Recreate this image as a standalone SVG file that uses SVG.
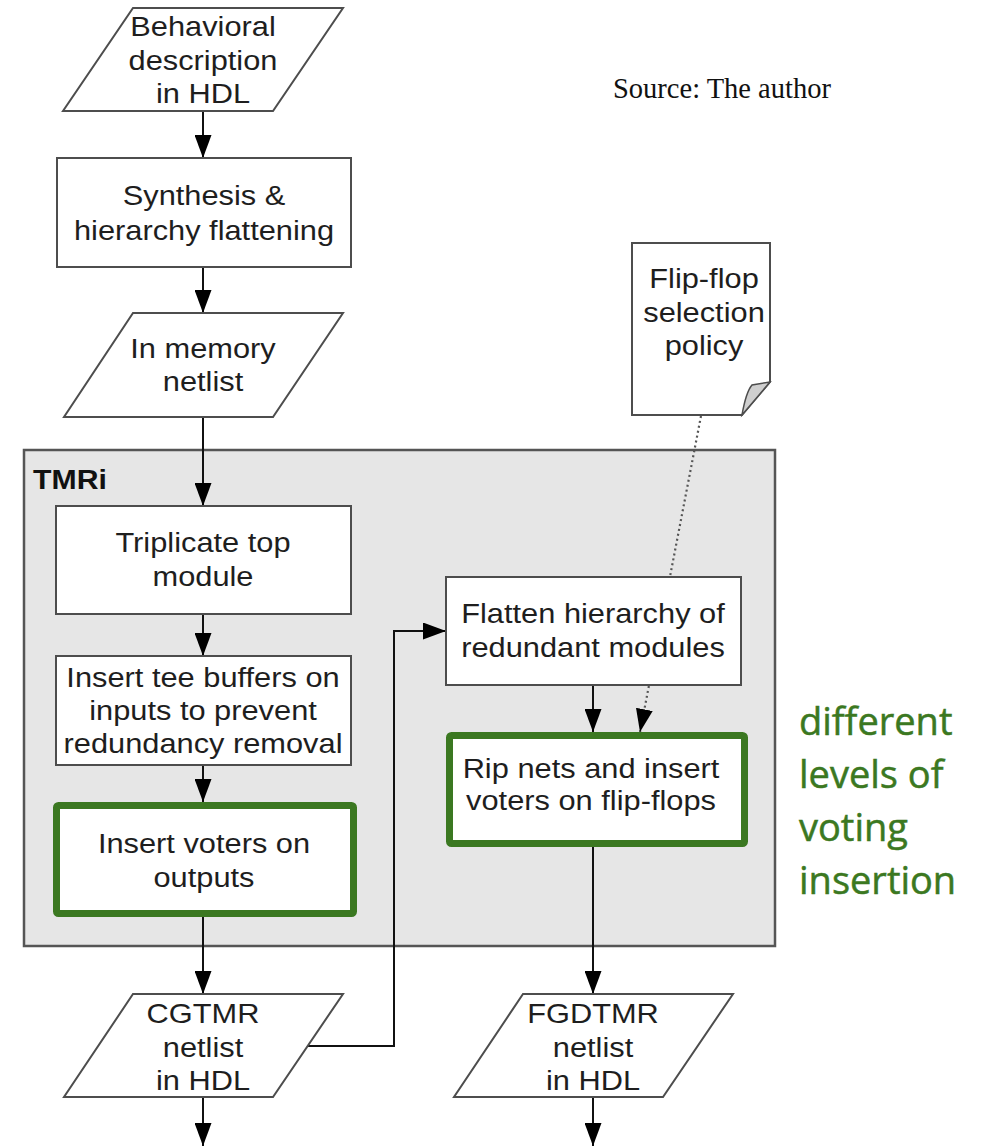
<svg xmlns="http://www.w3.org/2000/svg" width="986" height="1146" viewBox="0 0 986 1146">
<style>
.n{fill:#fff;stroke:#4d4d4d;stroke-width:2}
.g{fill:#fff;stroke:#3b7821;stroke-width:7}
.t{font-family:"Liberation Sans",Arial,sans-serif;font-size:27.5px;fill:#1e1e1e;text-anchor:middle}
.c{fill:none;stroke:#111;stroke-width:2}
.d{fill:none;stroke:#555;stroke-width:2.2;stroke-dasharray:2 3}
</style>
<defs>
<marker id="ah" markerWidth="23" markerHeight="17" refX="23" refY="8.5" viewBox="0 0 23 17" markerUnits="userSpaceOnUse" orient="auto">
<path d="M0,0 L23,8.5 L0,17 Z" fill="#000"/>
</marker>
</defs>
<rect width="986" height="1146" fill="#fff"/>
<g id="tmri">
<rect x="24" y="450" width="751" height="496" fill="#e6e6e6" stroke="#555" stroke-width="2.5"/>
<text x="33" y="489" font-family="Liberation Sans,Arial,sans-serif" font-size="27" font-weight="bold" fill="#111" transform="translate(33,0) scale(1.12,1) translate(-33,0)">TMRi</text>
</g>
<g id="connectors">
<line class="c" x1="203" y1="111" x2="203" y2="158" marker-end="url(#ah)"/>
<line class="c" x1="203" y1="267" x2="203" y2="313" marker-end="url(#ah)"/>
<line class="c" x1="203" y1="417" x2="203" y2="506" marker-end="url(#ah)"/>
<line class="c" x1="203" y1="614" x2="203" y2="656" marker-end="url(#ah)"/>
<line class="c" x1="203" y1="765" x2="203" y2="802" marker-end="url(#ah)"/>
<line class="c" x1="203" y1="917" x2="203" y2="994" marker-end="url(#ah)"/>
<line class="c" x1="203" y1="1097" x2="203" y2="1146" marker-end="url(#ah)"/>
<path class="c" d="M308,1046 H394 V631 H446" marker-end="url(#ah)"/>
<line class="c" x1="593" y1="685" x2="593" y2="732" marker-end="url(#ah)"/>
<line class="d" x1="701" y1="416" x2="640" y2="732" marker-end="url(#ah)"/>
<line class="c" x1="593" y1="847" x2="593" y2="994" marker-end="url(#ah)"/>
<line class="c" x1="593" y1="1097" x2="593" y2="1146" marker-end="url(#ah)"/>
</g>
<g id="behavioral">
<polygon class="n" points="133,8 343,8 273,111 63,111"/>
<text class="t" transform="translate(203,0) scale(1.12,1)"><tspan x="0" y="36">Behavioral</tspan><tspan x="0" y="70">description</tspan><tspan x="0" y="103">in HDL</tspan></text>
</g>
<g id="synthesis">
<rect class="n" x="57" y="158" width="294" height="109"/>
<text class="t" transform="translate(204,0) scale(1.12,1)"><tspan x="0" y="205">Synthesis &amp;</tspan><tspan x="0" y="240">hierarchy flattening</tspan></text>
</g>
<g id="memory">
<polygon class="n" points="133,313 343,313 273,417 64,417"/>
<text class="t" transform="translate(203,0) scale(1.12,1)"><tspan x="0" y="358">In memory</tspan><tspan x="0" y="391">netlist</tspan></text>
</g>
<g id="flipflop">
<path class="n" d="M632,243 H770 V382 L742,415 H632 Z"/>
<path d="M742,415 Q746,392 752,385 L770,382 Z" fill="#cfcfcf" stroke="#4d4d4d" stroke-width="1.5"/>
<text class="t" transform="translate(704,0) scale(1.12,1)"><tspan x="0" y="288">Flip-flop</tspan><tspan x="0" y="322">selection</tspan><tspan x="0" y="355">policy</tspan></text>
</g>
<g id="triplicate">
<rect class="n" x="56" y="506" width="295" height="108"/>
<text class="t" transform="translate(203,0) scale(1.12,1)"><tspan x="0" y="552">Triplicate top</tspan><tspan x="0" y="586">module</tspan></text>
</g>
<g id="tee">
<rect class="n" x="56" y="656" width="295" height="109"/>
<text class="t" transform="translate(203,0) scale(1.12,1)"><tspan x="0" y="687">Insert tee buffers on</tspan><tspan x="0" y="720">inputs to prevent</tspan><tspan x="0" y="753">redundancy removal</tspan></text>
</g>
<g id="voters">
<rect class="g" x="56.5" y="805.5" width="297" height="108" rx="2"/>
<text class="t" transform="translate(204,0) scale(1.12,1)"><tspan x="0" y="853">Insert voters on</tspan><tspan x="0" y="887">outputs</tspan></text>
</g>
<g id="flatten">
<rect class="n" x="446" y="577" width="295" height="108"/>
<text class="t" transform="translate(593,0) scale(1.12,1)"><tspan x="0" y="623">Flatten hierarchy of</tspan><tspan x="0" y="657">redundant modules</tspan></text>
</g>
<g id="rip">
<rect class="g" x="449.5" y="735.5" width="295" height="108" rx="2"/>
<text class="t" transform="translate(591,0) scale(1.12,1)"><tspan x="0" y="778">Rip nets and insert</tspan><tspan x="0" y="810">voters on flip-flops</tspan></text>
</g>
<g id="cgtmr">
<polygon class="n" points="133,994 343,994 273,1097 64,1097"/>
<text class="t" transform="translate(203,0) scale(1.12,1)"><tspan x="0" y="1023">CGTMR</tspan><tspan x="0" y="1057">netlist</tspan><tspan x="0" y="1090">in HDL</tspan></text>
</g>
<g id="fgdtmr">
<polygon class="n" points="523,994 733,994 663,1097 454,1097"/>
<text class="t" transform="translate(593,0) scale(1.12,1)"><tspan x="0" y="1023">FGDTMR</tspan><tspan x="0" y="1057">netlist</tspan><tspan x="0" y="1090">in HDL</tspan></text>
</g>
<g id="source">
<text x="613" y="98" font-family="Liberation Serif,Times New Roman,serif" font-size="28.5" fill="#111">Source: The author</text>
</g>
<g id="note">
<text font-family="Open Sans,Noto Sans,sans-serif" font-size="38" fill="#3b7821" stroke="#3b7821" stroke-width="0.5"><tspan x="799" y="735">different</tspan><tspan x="799" y="788">levels of</tspan><tspan x="799" y="841">voting</tspan><tspan x="799" y="894">insertion</tspan></text>
</g>
</svg>
